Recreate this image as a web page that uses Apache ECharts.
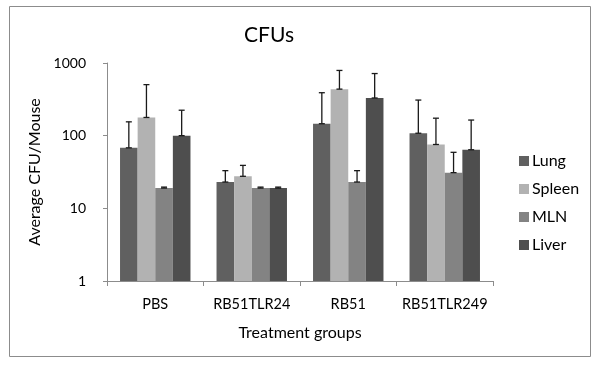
<!DOCTYPE html>
<html><head><meta charset="utf-8">
<script src="https://cdn.jsdelivr.net/npm/echarts@6/dist/echarts.min.js"></script>
<style>html,body{margin:0;padding:0;background:#fff}#c{width:600px;height:365px}</style>
</head><body><div id="c"></div>
<script>
var categories = ['PBS', 'RB51TLR24', 'RB51', 'RB51TLR249'];
var seriesNames = ['Lung', 'Spleen', 'MLN', 'Liver'];
var lung = [68, 23, 146, 108];
var spleen = [178, 27.6, 437, 75.6];
var mln = [19, 19, 23, 31];
var liver = [100, 19, 330, 64];
var lungErr = [155, 33, 390, 309];
var spleenErr = [504, 39, 790, 174];
var mlnErr = [19.6, 19.6, 33, 59];
var liverErr = [224, 19.6, 716, 164];
var yTicks = [1, 10, 100, 1000];
var colors = ['#606060', '#b2b2b2', '#838383', '#4e4e4e'];

var values = [lung, spleen, mln, liver];
var errs = [lungErr, spleenErr, mlnErr, liverErr];
var gapPct = 0.27;
var FONT = 'Lato';

var series = [];
values.forEach(function (v, i) {
  series.push({
    name: seriesNames[i], type: 'bar', data: v, barGap: '0%', barCategoryGap: (gapPct * 100) + '%',
    itemStyle: { color: colors[i] }, z: 2
  });
});
values.forEach(function (v, i) {
  var data = v.map(function (val, k) { return [k, val, errs[i][k]]; });
  series.push({
    type: 'custom', data: data, z: 5, silent: true,
    encode: { x: 0, y: [1, 2] },
    renderItem: function (params, api) {
      var cat = api.value(0);
      var base = api.coord([cat, api.value(1)]);
      var top = api.coord([cat, api.value(2)]);
      var catW = api.size([1, 0])[0];
      var bw = catW * (1 - gapPct) / 4;
      var x = base[0] + (i - 1.5) * bw;
      var cap = 3;
      var st = { stroke: '#1a1a1a', lineWidth: 1.3 };
      return { type: 'group', children: [
        { type: 'line', shape: { x1: x, y1: base[1], x2: x, y2: top[1] }, style: st },
        { type: 'line', shape: { x1: x - cap, y1: top[1], x2: x + cap, y2: top[1] }, style: st },
        { type: 'line', shape: { x1: x - cap, y1: base[1], x2: x + cap, y2: base[1] }, style: st }
      ] };
    }
  });
});

var chart = echarts.init(document.getElementById('c'), null, { renderer: 'canvas' });
chart.setOption({
  animation: false,
  backgroundColor: '#fff',
  textStyle: { fontFamily: FONT },
  graphic: [{ type: 'rect', shape: { x: 9.5, y: 6.5, width: 581, height: 350 },
    style: { fill: 'none', stroke: '#8c8c8c', lineWidth: 1 }, silent: true }],
  title: { text: 'CFUs', left: 264, top: 20, textAlign: 'center',
    textStyle: { fontFamily: FONT, fontSize: 21, fontWeight: 'normal', color: '#000' } },
  legend: {
    data: seriesNames, orient: 'vertical', left: 514, top: 148, itemGap: 12,
    itemWidth: 10, itemHeight: 10, icon: 'rect',
    textStyle: { fontFamily: FONT, fontSize: 16, color: '#000', padding: [0, 0, 0, -2] }
  },
  grid: { left: 107, right: 107, top: 63, bottom: 84 },
  xAxis: {
    type: 'category', data: categories,
    name: 'Treatment groups', nameLocation: 'middle', nameGap: 44,
    nameTextStyle: { fontFamily: FONT, fontSize: 16, color: '#000' },
    axisLine: { lineStyle: { color: '#8c8c8c' } },
    axisTick: { show: true, length: 5, lineStyle: { color: '#8c8c8c' } },
    axisLabel: { interval: 0, fontFamily: FONT, fontSize: 14.5, color: '#000', margin: 16 }
  },
  yAxis: {
    type: 'log', logBase: 10, min: yTicks[0], max: yTicks[yTicks.length - 1],
    name: 'Average CFU/Mouse', nameLocation: 'middle', nameGap: 52,
    nameTextStyle: { fontFamily: FONT, fontSize: 16, color: '#000' },
    axisLine: { show: true, lineStyle: { color: '#8c8c8c' } },
    axisTick: { show: true, length: 4, lineStyle: { color: '#8c8c8c' } },
    splitLine: { show: false },
    axisLabel: { fontFamily: FONT, fontSize: 14, color: '#000', margin: 21,
      formatter: function (v) { return String(Math.round(v)); } }
  },
  series: series
});
</script></body></html>
